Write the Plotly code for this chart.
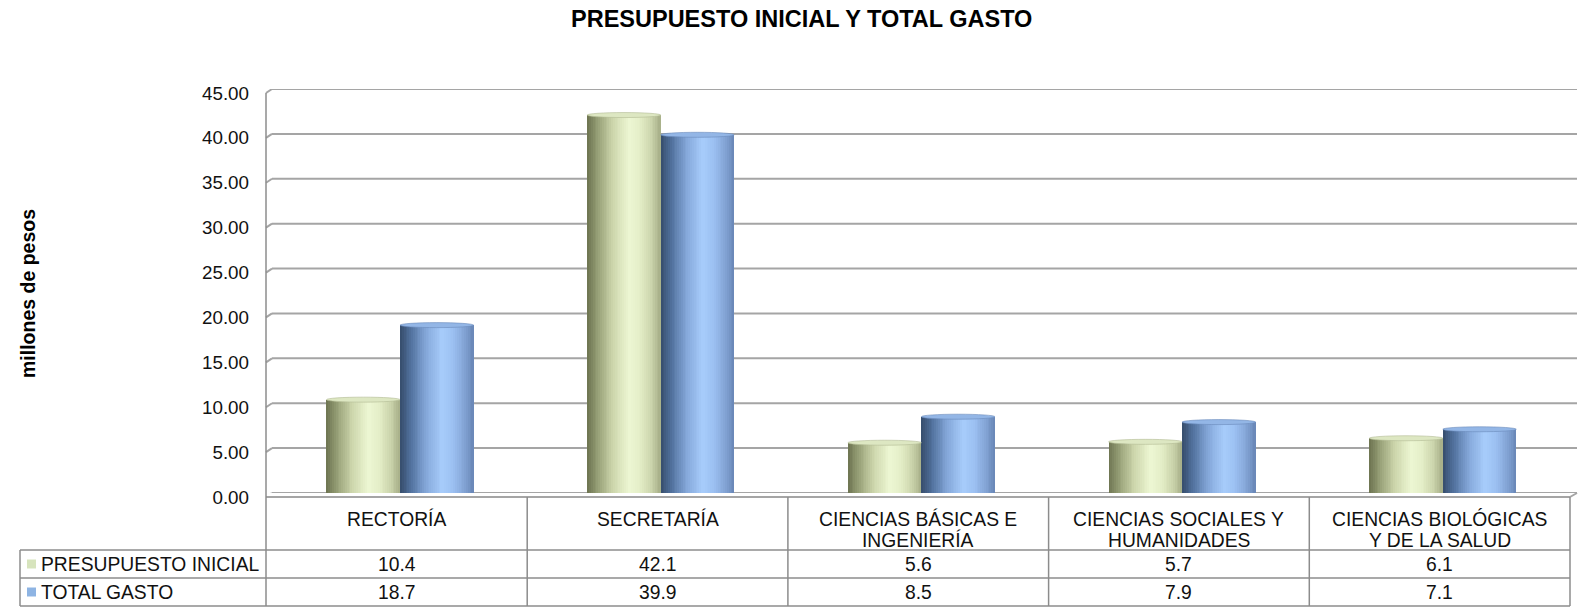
import plotly.graph_objects as go

# ---- data -------------------------------------------------------------
categories = [
    "RECTORÍA",
    "SECRETARÍA",
    "CIENCIAS BÁSICAS E<br>INGENIERÍA",
    "CIENCIAS SOCIALES Y<br>HUMANIDADES",
    "CIENCIAS BIOLÓGICAS<br>Y DE LA SALUD",
]
presupuesto_inicial = [10.4, 42.1, 5.6, 5.7, 6.1]
total_gasto = [18.7, 39.9, 8.5, 7.9, 7.1]
series_names = ["PRESUPUESTO INICIAL", "TOTAL GASTO"]
y_ticks = [0, 5, 10, 15, 20, 25, 30, 35, 40, 45]

# ---- layout geometry (pixels) ----------------------------------------
W, H = 1578, 608
L, R, T, B = 266, 1, 89, 115
PW, PH = W - L - R, H - T - B
BASE = H - B                      # pixel row of value 0
COL_W = 260.7                     # width of one category column
X_MAX = -0.5 + PW / COL_W
DEPTH = 6                         # 3-D wall offset

FONT = "Liberation Sans, Arial, sans-serif"
GRID = "#a5a5a5"
TABLE_LINE = "#8c8c8c"


def px_x(p):
    return (p - L) / PW


def px_y(p):
    return (BASE - p) / PH


def col_px(edge):
    return L + 0.5 + edge * COL_W


def lerp_color(stops, t):
    for (t0, c0), (t1, c1) in zip(stops, stops[1:]):
        if t0 <= t <= t1:
            f = (t - t0) / (t1 - t0)
            a = [int(c0[i:i + 2], 16) for i in (1, 3, 5)]
            b = [int(c1[i:i + 2], 16) for i in (1, 3, 5)]
            return "rgb({},{},{})".format(*[round(x + (y - x) * f) for x, y in zip(a, b)])
    return stops[-1][1]


green_stops = [(0.0, "#6c7350"), (0.15, "#98a178"), (0.35, "#cdd6ac"),
               (0.57, "#edf7d3"), (0.72, "#e4eec7"), (0.87, "#cbd4ac"),
               (1.0, "#a6ae88")]
blue_stops = [(0.0, "#364d6c"), (0.15, "#52729e"), (0.35, "#84a7d9"),
              (0.57, "#a7ccfb"), (0.72, "#9cc0f2"), (0.87, "#84a5d6"),
              (1.0, "#6886b6")]
key_colors = ["#d7e4bd", "#8eb4e3"]
top_colors = [("#dde7c2", "#b2ba94"), ("#93b6e6", "#6a8aba")]

BAR_W = 0.282
offsets = [-0.268, 0.014]
N_SLICES = 40

fig = go.Figure()
x_idx = list(range(len(categories)))

# cylinders: each bar built from thin vertical slices with shaded colours
for s, (vals, stops) in enumerate(zip([presupuesto_inicial, total_gasto],
                                      [green_stops, blue_stops])):
    sw = BAR_W / N_SLICES
    for i in range(N_SLICES):
        t = (i + 0.5) / N_SLICES
        fig.add_trace(go.Bar(
            x=x_idx, y=vals,
            width=sw * 1.6 if i < N_SLICES - 1 else sw,
            offset=offsets[s] + i * sw,
            marker=dict(color=lerp_color(stops, t), line=dict(width=0)),
            showlegend=False, hoverinfo="skip" if i else None,
            name=series_names[s],
        ))

shapes = []

# back-wall gridlines with their short slanted return to the front edge
for v in y_ticks:
    shapes.append(dict(type="line", xref="paper", yref="y",
                       x0=px_x(L + DEPTH), x1=1, y0=v, y1=v,
                       line=dict(color=GRID, width=2), layer="below"))
    shapes.append(dict(type="line", xref="paper", yref="y",
                       ysizemode="pixel", yanchor=v, y0=-4, y1=0,
                       x0=px_x(L), x1=px_x(L + DEPTH),
                       line=dict(color=GRID, width=2), layer="below"))

# floor front edge
shapes += [
    dict(type="line", xref="paper", yref="paper",
         x0=px_x(L), x1=px_x(col_px(5)), y0=px_y(BASE + 4), y1=px_y(BASE + 4),
         line=dict(color=GRID, width=2)),
    dict(type="line", xref="paper", yref="paper",
         x0=px_x(col_px(5)), x1=px_x(col_px(5) + DEPTH + 1),
         y0=px_y(BASE + 4), y1=px_y(BASE),
         line=dict(color=GRID, width=2)),
]

# cylinder tops
for s, vals in enumerate([presupuesto_inicial, total_gasto]):
    for i, v in enumerate(vals):
        shapes.append(dict(type="circle", xref="x", yref="y",
                           ysizemode="pixel", yanchor=v, y0=-2.5, y1=2.5,
                           x0=i + offsets[s], x1=i + offsets[s] + BAR_W,
                           fillcolor=top_colors[s][0],
                           line=dict(color=top_colors[s][1], width=0.6)))

# data table grid
ROW_TOP, ROW1, ROW2, ROW_END = BASE + 4, 550, 578, 606
TABLE_LEFT = 20
shapes.append(dict(type="line", xref="paper", yref="paper",
                   x0=px_x(L), x1=px_x(L), y0=px_y(T + 4), y1=px_y(ROW_END),
                   line=dict(color=TABLE_LINE, width=1.5)))
for k in range(1, 6):
    xp = px_x(col_px(k))
    shapes.append(dict(type="line", xref="paper", yref="paper",
                       x0=xp, x1=xp, y0=px_y(ROW_TOP), y1=px_y(ROW_END),
                       line=dict(color=TABLE_LINE, width=1.5)))
for yr in (ROW1, ROW2, ROW_END):
    shapes.append(dict(type="line", xref="paper", yref="paper",
                       x0=px_x(TABLE_LEFT), x1=px_x(col_px(5)),
                       y0=px_y(yr), y1=px_y(yr),
                       line=dict(color=TABLE_LINE, width=1.5)))
shapes.append(dict(type="line", xref="paper", yref="paper",
                   x0=px_x(TABLE_LEFT), x1=px_x(TABLE_LEFT),
                   y0=px_y(ROW1), y1=px_y(ROW_END),
                   line=dict(color=TABLE_LINE, width=1.5)))

annotations = []
TXT = dict(family=FONT, size=19.3, color="#111111")

# header cells
for i, label in enumerate(categories):
    for j, line in enumerate(label.split("<br>")):
        annotations.append(dict(xref="paper", yref="paper",
                                x=px_x(col_px(i + 0.5)), y=px_y(519 + 21 * j),
                                text=line, showarrow=False, font=TXT,
                                xanchor="center", yanchor="middle"))

# value rows with legend keys
for r, (name, vals) in enumerate(zip(series_names, [presupuesto_inicial, total_gasto])):
    yc = (ROW1 + ROW2) / 2 if r == 0 else (ROW2 + ROW_END) / 2
    shapes.append(dict(type="rect", xref="paper", yref="paper",
                       x0=px_x(27), x1=px_x(36), y0=px_y(yc - 4.5), y1=px_y(yc + 4.5),
                       fillcolor=key_colors[r], line=dict(width=0)))
    annotations.append(dict(xref="paper", yref="paper", x=px_x(39), y=px_y(yc),
                            text=name, showarrow=False, font=TXT,
                            xanchor="left", yanchor="middle"))
    for i, v in enumerate(vals):
        annotations.append(dict(xref="paper", yref="paper",
                                x=px_x(col_px(i + 0.5)), y=px_y(yc),
                                text=f"{v:.1f}", showarrow=False, font=TXT,
                                xanchor="center", yanchor="middle"))

# titles
annotations.append(dict(xref="paper", yref="paper", x=px_x(801), y=px_y(19),
                        text="<b>PRESUPUESTO INICIAL Y TOTAL GASTO</b>",
                        showarrow=False, xanchor="center", yanchor="middle",
                        font=dict(family=FONT, size=23.5, color="#000000")))
annotations.append(dict(xref="paper", yref="paper", x=px_x(28), y=px_y(294),
                        text="<b>millones de pesos</b>", textangle=-90,
                        showarrow=False, xanchor="center", yanchor="middle",
                        font=dict(family=FONT, size=19.5, color="#000000")))

fig.update_layout(
    width=W, height=H,
    margin=dict(l=L, r=R, t=T, b=B, pad=0),
    paper_bgcolor="white", plot_bgcolor="white",
    barmode="overlay", bargap=0,
    showlegend=False,
    shapes=shapes, annotations=annotations,
    xaxis=dict(range=[-0.5, X_MAX], showgrid=False, zeroline=False,
               showticklabels=False, showline=False, fixedrange=True),
    yaxis=dict(range=[0, 45], tickvals=y_ticks, tickformat=".2f",
               showgrid=False, zeroline=False, showline=False, ticks="",
               ticklabelshift=4, ticklabelstandoff=16,
               tickfont=dict(family=FONT, size=18.8, color="#111111")),
)

fig.write_html("out.html")
